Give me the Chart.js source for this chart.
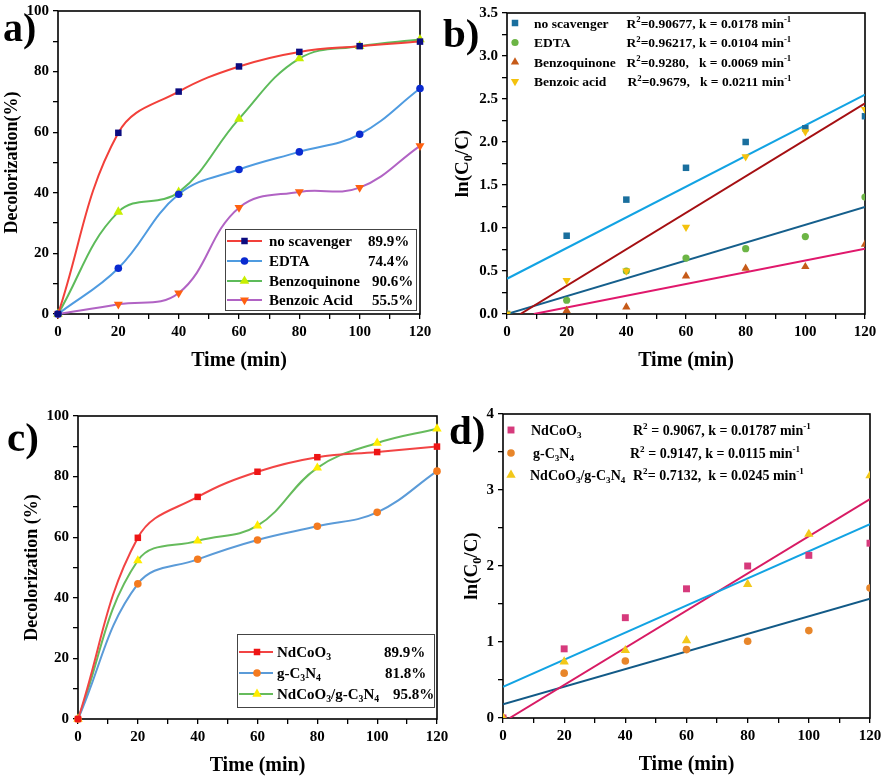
<!DOCTYPE html>
<html><head><meta charset="utf-8">
<script src="https://cdn.jsdelivr.net/npm/chart.js@4.4.1/dist/chart.umd.min.js"></script>
<style>
html,body{margin:0;padding:0;background:#fff;}
body{width:886px;height:782px;position:relative;overflow:hidden;}
canvas{position:absolute;}
</style></head><body>
<canvas id="ca" width="443" height="390" style="left:0;top:0"></canvas>
<canvas id="cb" width="443" height="390" style="left:443px;top:0"></canvas>
<canvas id="cc" width="460" height="392" style="left:0;top:390px"></canvas>
<canvas id="cd" width="443" height="392" style="left:443px;top:390px"></canvas>
<script>
const FONT = "'Liberation Serif','Times New Roman',serif";

// shared x values / tick labels
const timeMin = [0, 20, 40, 60, 80, 100, 120];
const xTickLabels = ['0', '20', '40', '60', '80', '100', '120'];

// ---- panel (a) ----
const aNoScavenger = [0, 59.8, 73.4, 81.7, 86.5, 88.4, 89.9];
const aEDTA = [0, 15.1, 39.5, 47.7, 53.5, 59.3, 74.4];
const aBenzoquinone = [0, 33.7, 40.2, 64.4, 84.3, 88.4, 90.6];
const aBenzoicAcid = [0, 3.2, 6.9, 35.1, 40.3, 41.7, 55.5];
const aYTickLabels = ['0', '20', '40', '60', '80', '100'];
const aLegendNames = ['no scavenger', 'EDTA', 'Benzoquinone', 'Benzoic Acid'];
const aLegendPct = ['89.9%', '74.4%', '90.6%', '55.5%'];

// ---- panel (b) ----
const bNoScavenger = [0, 0.91, 1.33, 1.70, 2.00, 2.16, 2.30];
const bEDTA = [0, 0.16, 0.50, 0.65, 0.76, 0.90, 1.36];
const bBenzoquinone = [0, 0.04, 0.08, 0.44, 0.53, 0.55, 0.81];
const bBenzoicAcid = [0, 0.39, 0.50, 1.01, 1.83, 2.12, 2.38];
const bFitNoScavenger = [[0, 0.41], [120, 2.55]];
const bFitEDTA = [[0, 0], [120, 1.245]];
const bFitBenzoquinone = [[9, 0], [120, 0.76]];
const bFitBenzoicAcid = [[4.5, 0], [120, 2.45]];
const bYTickLabels = ['0.0', '0.5', '1.0', '1.5', '2.0', '2.5', '3.0', '3.5'];
const bLegendNames = ['no scavenger', 'EDTA', 'Benzoquinone', 'Benzoic acid'];
const bLegendFits = ['R^{2}=0.90677, k = 0.0178 min^{-1}', 'R^{2}=0.96217, k = 0.0104 min^{-1}',
  'R^{2}=0.9280,   k = 0.0069 min^{-1}', 'R^{2}=0.9679,   k = 0.0211 min^{-1}'];

// ---- panel (c) ----
const cNdCoO3 = [0, 59.8, 73.3, 81.6, 86.4, 88.1, 89.9];
const cGC3N4 = [0, 44.6, 52.7, 59.1, 63.6, 68.2, 81.8];
const cComposite = [0, 52.3, 58.8, 63.8, 82.9, 91.1, 95.8];
const cYTickLabels = ['0', '20', '40', '60', '80', '100'];
const cLegendNames = ['NdCoO_{3}', 'g-C_{3}N_{4}', 'NdCoO_{3}/g-C_{3}N_{4}'];
const cLegendPct = ['89.9%', '81.8%', '95.8%'];

// ---- panel (d) ----
const dNdCoO3 = [0, 0.91, 1.32, 1.70, 2.00, 2.14, 2.30];
const dGC3N4 = [0, 0.59, 0.75, 0.90, 1.01, 1.15, 1.71];
const dComposite = [0, 0.74, 0.89, 1.02, 1.76, 2.42, 3.19];
const dFitNdCoO3 = [[0, 0.41], [120, 2.55]];
const dFitGC3N4 = [[0, 0.18], [120, 1.57]];
const dFitComposite = [[2.2, 0], [120, 2.88]];
const dYTickLabels = ['0', '1', '2', '3', '4'];
const dLegendNames = ['NdCoO_{3}', 'g-C_{3}N_{4}', 'NdCoO_{3}/g-C_{3}N_{4}'];
const dLegendFits = ['R^{2} = 0.9067, k = 0.01787 min^{-1}', 'R^{2} = 0.9147, k = 0.0115 min^{-1}',
  'R^{2}= 0.7132,  k = 0.0245 min^{-1}'];

// ---------- helpers ----------
const pts = arr => timeMin.map((t, i) => ({x: t, y: arr[i]}));
const seg = pr => pr.map(([x, y]) => ({x, y}));
const fontStr = s => `bold ${s}px ${FONT}`;

function parseRich(s) {
  const out = []; const re = /([_^])\{([^}]*)\}/g; let last = 0, m;
  while ((m = re.exec(s))) {
    if (m.index > last) out.push([s.slice(last, m.index), '']);
    out.push([m[2], m[1] === '_' ? 'sub' : 'sup']);
    last = re.lastIndex;
  }
  if (last < s.length) out.push([s.slice(last), '']);
  return out;
}
function drawRich(ctx, s, x, y, size, align) {
  const segs = parseRich(s);
  let w = 0;
  for (const [t, m] of segs) { ctx.font = fontStr(m ? size * 0.65 : size); w += ctx.measureText(t).width; }
  let cx = align === 'center' ? x - w / 2 : align === 'right' ? x - w : x;
  ctx.textAlign = 'left'; ctx.textBaseline = 'alphabetic';
  for (const [t, m] of segs) {
    ctx.font = fontStr(m ? size * 0.65 : size);
    const dy = m === 'sub' ? size * 0.22 : m === 'sup' ? -size * 0.4 : 0;
    ctx.fillText(t, cx, y + dy);
    cx += ctx.measureText(t).width;
  }
}
function drawMarker(ctx, style, x, y, r, color) {
  ctx.fillStyle = color; ctx.beginPath();
  if (style === 'rect') { const s = r * Math.SQRT1_2; ctx.rect(x - s, y - s, 2 * s, 2 * s); }
  else if (style === 'circle') { ctx.arc(x, y, r, 0, 2 * Math.PI); }
  else if (style === 'triangle') { ctx.moveTo(x, y - r); ctx.lineTo(x + r * 0.866, y + r * 0.5); ctx.lineTo(x - r * 0.866, y + r * 0.5); ctx.closePath(); }
  else if (style === 'down') { ctx.moveTo(x, y + r); ctx.lineTo(x + r * 0.866, y - r * 0.5); ctx.lineTo(x - r * 0.866, y - r * 0.5); ctx.closePath(); }
  ctx.fill();
}
function zeroPad(s) { s.paddingLeft = s.paddingRight = s.paddingTop = s.paddingBottom = 0; }

function xScale(height, titlePadBottom) {
  return {
    type: 'linear', min: 0, max: 120,
    ticks: {stepSize: 10, autoSkip: false, maxRotation: 0, color: '#000', padding: 4,
      font: {family: FONT, weight: 'bold', size: 15},
      callback: v => { const s = String(v); return xTickLabels.includes(s) ? s : ''; }},
    grid: {drawOnChartArea: false, drawTicks: true, tickLength: 5, color: '#000', lineWidth: 1.3},
    border: {display: false},
    title: {display: true, text: 'Time (min)', color: '#000', font: {family: FONT, weight: 'bold', size: 20},
      padding: {top: 0, bottom: titlePadBottom}},
    afterFit: s => { s.height = height; zeroPad(s); }
  };
}
function yScale(max, step, labels, fmt, width, title, titlePadTop) {
  return {
    type: 'linear', min: 0, max: max,
    ticks: {stepSize: step, autoSkip: false, color: '#000', padding: 4,
      font: {family: FONT, weight: 'bold', size: 15},
      callback: v => { const s = fmt(v); return labels.includes(s) ? s : ''; }},
    grid: {drawOnChartArea: false, drawTicks: true, tickLength: 5, color: '#000', lineWidth: 1.3},
    border: {display: false},
    title: title ? {display: true, text: title, color: '#000', font: {family: FONT, weight: 'bold', size: 18},
      padding: {top: titlePadTop, bottom: 0}} : {display: false},
    afterFit: s => { s.width = width; zeroPad(s); }
  };
}
function baseOptions(pad, x, y) {
  return {responsive: false, animation: false, devicePixelRatio: 1, events: [],
    layout: {padding: pad, autoPadding: false},
    plugins: {legend: {display: false}, tooltip: {enabled: false}},
    scales: {x, y}};
}
function framePlugin(id, drawExtra) {
  return {
    id,
    beforeDatasetsDraw(chart) {
      const {ctx, chartArea: a} = chart;
      ctx.save(); ctx.strokeStyle = '#000'; ctx.lineWidth = 1.6;
      ctx.strokeRect(a.left, a.top, a.right - a.left, a.bottom - a.top); ctx.restore();
    },
    afterDraw(chart) { const ctx = chart.ctx; ctx.save(); drawExtra(ctx, chart); ctx.restore(); }
  };
}
function curveDS(data, lineColor, markColor, style, r, rot) {
  return {data: pts(data), showLine: true, borderColor: lineColor, borderWidth: 2, tension: 0.4,
    pointStyle: style, pointRadius: r, pointHoverRadius: r, pointRotation: rot || 0,
    pointBackgroundColor: markColor, pointBorderColor: markColor, pointBorderWidth: 0, clip: false};
}
function pointDS(data, color, style, r, rot) {
  return {data: pts(data), showLine: false, pointStyle: style, pointRadius: r, pointHoverRadius: r,
    pointRotation: rot || 0, pointBackgroundColor: color, pointBorderColor: color, pointBorderWidth: 0};
}
function fitDS(pair, color) {
  return {data: seg(pair), showLine: true, borderColor: color, borderWidth: 2, tension: 0, pointRadius: 0, pointHoverRadius: 0};
}
function verticalRichTitle(ctx, chart, s, cx, size) {
  const a = chart.chartArea; const cy = (a.top + a.bottom) / 2;
  ctx.translate(cx, cy); ctx.rotate(-Math.PI / 2); ctx.fillStyle = '#000';
  drawRich(ctx, s, 0, size * 0.33, size, 'center');
}

// ---------- panel (a) ----------
const aLine = ['#f2403a', '#4f9be0', '#5dbb5a', '#b163c4'];
const aMark = ['#0c0c80', '#0a2ad0', '#c8ee00', '#ff6010'];
const aStyle = ['rect', 'circle', 'triangle', 'down'];
const aRad = [4.6, 3.8, 5.6, 5.2];
new Chart(document.getElementById('ca'), {
  type: 'scatter',
  data: {datasets: [
    curveDS(aNoScavenger, aLine[0], aMark[0], 'rect', aRad[0]),
    curveDS(aEDTA, aLine[1], aMark[1], 'circle', aRad[1]),
    curveDS(aBenzoquinone, aLine[2], aMark[2], 'triangle', aRad[2]),
    curveDS(aBenzoicAcid, aLine[3], aMark[3], 'triangle', aRad[3], 180)
  ]},
  options: baseOptions({left: 0, top: 11, right: 23, bottom: 0},
    xScale(76, 17),
    yScale(100, 10, aYTickLabels, v => String(v), 58, 'Decolorization(%)', 2)),
  plugins: [framePlugin('pa', (ctx) => {
    ctx.fillStyle = '#000'; ctx.font = fontStr(40); ctx.textBaseline = 'alphabetic'; ctx.textAlign = 'left';
    ctx.fillText('a)', 3, 41);
    ctx.fillStyle = '#fff'; ctx.fillRect(225, 229, 191, 81);
    ctx.strokeStyle = '#444'; ctx.lineWidth = 1; ctx.strokeRect(225.5, 229.5, 191, 81);
    const rows = [241, 261, 281, 300], pctX = [368, 368, 372, 372];
    aLegendNames.forEach((n, i) => {
      const y = rows[i];
      ctx.strokeStyle = aLine[i]; ctx.lineWidth = 2;
      ctx.beginPath(); ctx.moveTo(227, y); ctx.lineTo(262, y); ctx.stroke();
      drawMarker(ctx, aStyle[i], 244.5, y, aRad[i], aMark[i]);
      ctx.fillStyle = '#000';
      drawRich(ctx, n, 269, y + 5, 15, 'left');
      drawRich(ctx, aLegendPct[i], pctX[i], y + 5, 15, 'left');
    });
  })]
});

// ---------- panel (b) ----------
const bMark = ['#1a6f9e', '#6cb545', '#c65a18', '#f4c20d'];
const bStyle = ['rect', 'circle', 'triangle', 'down'];
const bRad = [4.6, 3.6, 4.8, 4.8];
new Chart(document.getElementById('cb'), {
  type: 'scatter',
  data: {datasets: [
    pointDS(bBenzoicAcid, bMark[3], 'triangle', bRad[3], 180),
    pointDS(bNoScavenger, bMark[0], 'rect', bRad[0]),
    pointDS(bEDTA, bMark[1], 'circle', bRad[1]),
    pointDS(bBenzoquinone, bMark[2], 'triangle', bRad[2]),
    fitDS(bFitNoScavenger, '#12a3e3'),
    fitDS(bFitBenzoicAcid, '#a50f12'),
    fitDS(bFitEDTA, '#155f8c'),
    fitDS(bFitBenzoquinone, '#e0186c')
  ]},
  options: baseOptions({left: 0, top: 13, right: 21, bottom: 0},
    xScale(76, 17),
    yScale(3.5, 0.25, bYTickLabels, v => v.toFixed(1), 64, null, 0)),
  plugins: [framePlugin('pb', (ctx, chart) => {
    ctx.fillStyle = '#000'; ctx.font = fontStr(41); ctx.textBaseline = 'alphabetic'; ctx.textAlign = 'left';
    ctx.fillText('b)', 0, 47);
    const rows = [23, 42.5, 62, 81.5], fx = [183.5, 183.5, 183.5, 184.5];
    bLegendNames.forEach((n, i) => {
      const y = rows[i];
      drawMarker(ctx, bStyle[i], 72, y, bRad[i], bMark[i]);
      ctx.fillStyle = '#000';
      drawRich(ctx, n, 91, y + 4.5, 13.5, 'left');
      drawRich(ctx, bLegendFits[i], fx[i], y + 4.5, 13.5, 'left');
    });
    verticalRichTitle(ctx, chart, 'ln(C_{0}/C)', 19, 19);
  })]
});

// ---------- panel (c) ----------
const cLine = ['#f24444', '#5b9bd8', '#66bb5c'];
const cMark = ['#ee1515', '#f47a1f', '#ffec00'];
const cStyle = ['rect', 'circle', 'triangle'];
const cRad = [4.6, 3.8, 5.4];
new Chart(document.getElementById('cc'), {
  type: 'scatter',
  data: {datasets: [
    curveDS(cNdCoO3, cLine[0], cMark[0], 'rect', cRad[0]),
    curveDS(cGC3N4, cLine[1], cMark[1], 'circle', cRad[1]),
    curveDS(cComposite, cLine[2], cMark[2], 'triangle', cRad[2])
  ]},
  options: baseOptions({left: 0, top: 26, right: 23, bottom: 0},
    xScale(63, 4),
    yScale(100, 10, cYTickLabels, v => String(v), 78, 'Decolorization (%)', 22)),
  plugins: [framePlugin('pc', (ctx) => {
    ctx.fillStyle = '#000'; ctx.font = fontStr(41); ctx.textBaseline = 'alphabetic'; ctx.textAlign = 'left';
    ctx.fillText('c)', 7, 61);
    ctx.fillStyle = '#fff'; ctx.fillRect(237, 244, 197, 73);
    ctx.strokeStyle = '#444'; ctx.lineWidth = 1; ctx.strokeRect(237.5, 244.5, 197, 73);
    const rows = [262, 283, 304], pctX = [384, 385, 393];
    cLegendNames.forEach((n, i) => {
      const y = rows[i];
      ctx.strokeStyle = cLine[i]; ctx.lineWidth = 2;
      ctx.beginPath(); ctx.moveTo(239, y); ctx.lineTo(273, y); ctx.stroke();
      drawMarker(ctx, cStyle[i], 257, y, cRad[i], cMark[i]);
      ctx.fillStyle = '#000';
      drawRich(ctx, n, 277, y + 5, 15, 'left');
      drawRich(ctx, cLegendPct[i], pctX[i], y + 5, 15, 'left');
    });
  })]
});

// ---------- panel (d) ----------
const dMark = ['#d63a7c', '#e8862a', '#f2c81a'];
const dStyle = ['rect', 'circle', 'triangle'];
const dRad = [4.9, 3.8, 5.4];
new Chart(document.getElementById('cd'), {
  type: 'scatter',
  data: {datasets: [
    pointDS(dComposite, dMark[2], 'triangle', dRad[2]),
    pointDS(dNdCoO3, dMark[0], 'rect', dRad[0]),
    pointDS(dGC3N4, dMark[1], 'circle', dRad[1]),
    fitDS(dFitNdCoO3, '#12a3e3'),
    fitDS(dFitComposite, '#d81b64'),
    fitDS(dFitGC3N4, '#125a87')
  ]},
  options: baseOptions({left: 0, top: 24, right: 16, bottom: 0},
    xScale(64, 5),
    yScale(4, 0.5, dYTickLabels, v => String(v), 60, null, 0)),
  plugins: [framePlugin('pd', (ctx, chart) => {
    ctx.fillStyle = '#000'; ctx.font = fontStr(41); ctx.textBaseline = 'alphabetic'; ctx.textAlign = 'left';
    ctx.fillText('d)', 6, 54);
    const rows = [40, 63, 85], nx = [88, 90, 87], fx = [190, 187, 190];
    dLegendNames.forEach((n, i) => {
      const y = rows[i];
      drawMarker(ctx, dStyle[i], 68, y, dRad[i], dMark[i]);
      ctx.fillStyle = '#000';
      drawRich(ctx, n, nx[i], y + 4.5, 14, 'left');
      drawRich(ctx, dLegendFits[i], fx[i], y + 4.5, 14, 'left');
    });
    verticalRichTitle(ctx, chart, 'ln(C_{0}/C)', 28, 19);
  })]
});
</script>
</body></html>
